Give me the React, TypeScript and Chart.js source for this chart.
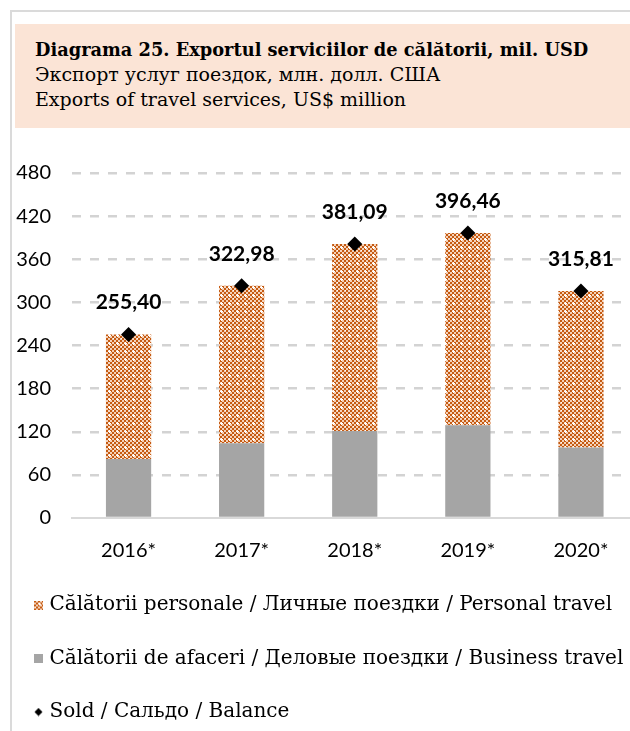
import React, { useEffect, useRef } from "react";
import { Chart, registerables } from "chart.js";

Chart.register(...registerables);

// ---- data ----
const categories = ["2016*", "2017*", "2018*", "2019*", "2020*"];
const businessTravel = [82.0, 104.0, 121.0, 129.0, 98.0];
const personalTravel = [173.4, 218.98, 260.09, 267.46, 217.81];
const balance = [255.4, 322.98, 381.09, 396.46, 315.81];
const yMin = 0;
const yMax = 480;
const yStep = 60;

const titleLines = [
  "Diagrama 25. Exportul serviciilor de călătorii, mil. USD",
  "Экспорт услуг поездок, млн. долл. США",
  "Exports of travel services, US$ million",
];
const legendLabels = [
  "Călătorii personale / Личные поездки / Personal travel",
  "Călătorii de afaceri / Деловые поездки / Business travel",
  "Sold / Сальдо / Balance",
];

const GRAY = "#a5a5a5";
const ORANGE = "#c55a11";
const SANS = "Lato, 'Liberation Sans', sans-serif";
const SERIF = "'DejaVu Serif', serif";

function makePatternCanvas(): HTMLCanvasElement {
  const c = document.createElement("canvas");
  c.width = 8;
  c.height = 8;
  const g = c.getContext("2d")!;
  g.fillStyle = "#f5d2b9";
  g.fillRect(0, 0, 8, 8);
  g.fillStyle = ORANGE;
  for (let cy = 0; cy < 4; cy++) {
    for (let cx = 0; cx < 4; cx++) {
      if ((cx + cy) % 2 === 0) g.fillRect(cx * 2, cy * 2, 2, 2);
    }
  }
  g.fillStyle = "#ffffff";
  g.fillRect(5, 2, 1, 3);
  g.fillRect(4, 3, 3, 1);
  g.fillRect(1, 6, 1, 1);
  return c;
}

function makeMarker(kind: "pattern" | "gray" | "diamond", pattern: CanvasPattern | null): HTMLCanvasElement {
  const c = document.createElement("canvas");
  c.width = 9;
  c.height = 9;
  const g = c.getContext("2d")!;
  if (kind === "diamond") {
    g.fillStyle = "#000";
    g.beginPath();
    g.moveTo(4.5, 0.5);
    g.lineTo(8.5, 4.5);
    g.lineTo(4.5, 8.5);
    g.lineTo(0.5, 4.5);
    g.closePath();
    g.fill();
  } else if (kind === "gray") {
    g.fillStyle = GRAY;
    g.fillRect(0, 0, 9, 9);
  } else {
    g.fillStyle = pattern || ORANGE;
    g.fillRect(0, 0, 9, 9);
  }
  return c;
}

const balanceLabelPlugin = {
  id: "balanceLabels",
  afterDatasetsDraw(chart: any) {
    const meta = chart.getDatasetMeta(2);
    const ctx = chart.ctx;
    ctx.save();
    ctx.font = `bold 21px ${SANS}`;
    ctx.fillStyle = "#000";
    ctx.textAlign = "center";
    ctx.textBaseline = "middle";
    meta.data.forEach((pt: any, i: number) => {
      ctx.fillText(balance[i].toFixed(2).replace(".", ","), pt.x, pt.y - 32);
    });
    ctx.restore();
  },
};

export default function App() {
  const canvasRef = useRef<HTMLCanvasElement | null>(null);

  useEffect(() => {
    const canvas = canvasRef.current;
    if (!canvas) return;
    const ctx = canvas.getContext("2d")!;
    const pc = makePatternCanvas();
    const pattern = ctx.createPattern(pc, "repeat");
    const markers = [
      makeMarker("pattern", pattern),
      makeMarker("gray", null),
      makeMarker("diamond", null),
    ];

    const chart = new Chart(canvas, {
      type: "bar",
      data: {
        labels: categories,
        datasets: [
          {
            type: "bar",
            label: legendLabels[1],
            data: businessTravel,
            backgroundColor: GRAY,
            borderWidth: 0,
            stack: "exports",
            barPercentage: 0.4,
            categoryPercentage: 1,
            order: 1,
          },
          {
            type: "bar",
            label: legendLabels[0],
            data: personalTravel,
            backgroundColor: pattern || ORANGE,
            borderWidth: 0,
            stack: "exports",
            barPercentage: 0.4,
            categoryPercentage: 1,
            order: 1,
          },
          {
            type: "line",
            label: legendLabels[2],
            data: balance,
            showLine: false,
            pointStyle: "rectRot",
            pointRadius: 7.5,
            backgroundColor: "#000",
            borderColor: "#000",
            borderWidth: 0,
            stack: "balance",
            order: -1,
          } as any,
        ],
      },
      options: {
        responsive: false,
        animation: false,
        events: [],
        layout: { padding: { left: 4, right: 4, top: 25, bottom: 4 } },
        scales: {
          x: {
            stacked: true,
            grid: { display: false, drawTicks: false },
            border: { display: true, color: "#d9d9d9", width: 2 },
            ticks: {
              color: "#000",
              font: { family: SANS, size: 20 },
              padding: 21,
            },
            afterFit(scale: any) {
              scale.height = 43.5;
            },
          },
          y: {
            stacked: true,
            min: yMin,
            max: yMax,
            grid: {
              color: (c: any) => (c.tick && c.tick.value === 0 ? "rgba(0,0,0,0)" : "#d3d3d3"),
              lineWidth: 2.5,
              drawTicks: false,
            },
            border: { display: false, dash: [9, 9] },
            ticks: {
              stepSize: yStep,
              color: "#000",
              font: { family: SANS, size: 20 },
              padding: 21,
            },
            afterFit(scale: any) {
              scale.width = 68;
            },
          },
        },
        plugins: {
          tooltip: { enabled: false },
          legend: {
            display: true,
            position: "bottom",
            align: "start",
            labels: {
              usePointStyle: true,
              pointStyleWidth: 2,
              boxHeight: 9,
              padding: 33.5,
              color: "#000",
              font: { family: SERIF, size: 20 },
              generateLabels: () =>
                [0, 1, 2].map((i) => ({
                  text: legendLabels[i],
                  pointStyle: markers[i],
                  fillStyle: "#000",
                  strokeStyle: "rgba(0,0,0,0)",
                  lineWidth: 0,
                  hidden: false,
                  datasetIndex: i,
                })) as any,
            },
          },
        },
      },
      plugins: [balanceLabelPlugin],
    });
    return () => chart.destroy();
  }, []);

  return (
    <div
      style={{
        position: "absolute",
        left: 0,
        top: 0,
        width: 630,
        height: 731,
        overflow: "hidden",
        background: "#fff",
      }}
    >
      <div
        style={{
          position: "absolute",
          left: 10,
          top: 10,
          width: 700,
          height: 800,
          borderLeft: "2px solid #dadada",
          borderTop: "2px solid #dadada",
        }}
      />
      <div
        style={{
          position: "absolute",
          left: 15,
          top: 24,
          width: 640,
          height: 104,
          background: "#fbe4d6",
          boxSizing: "border-box",
          paddingLeft: 20,
          paddingTop: 13,
          fontFamily: SERIF,
          fontSize: 19,
          lineHeight: "25px",
          color: "#000",
        }}
      >
        <div style={{ fontWeight: "bold", fontSize: 17.8 }}>{titleLines[0]}</div>
        <div>{titleLines[1]}</div>
        <div>{titleLines[2]}</div>
      </div>
      <canvas
        ref={canvasRef}
        width={645}
        height={596}
        style={{ position: "absolute", left: 0, top: 140, display: "block" }}
      />
    </div>
  );
}
